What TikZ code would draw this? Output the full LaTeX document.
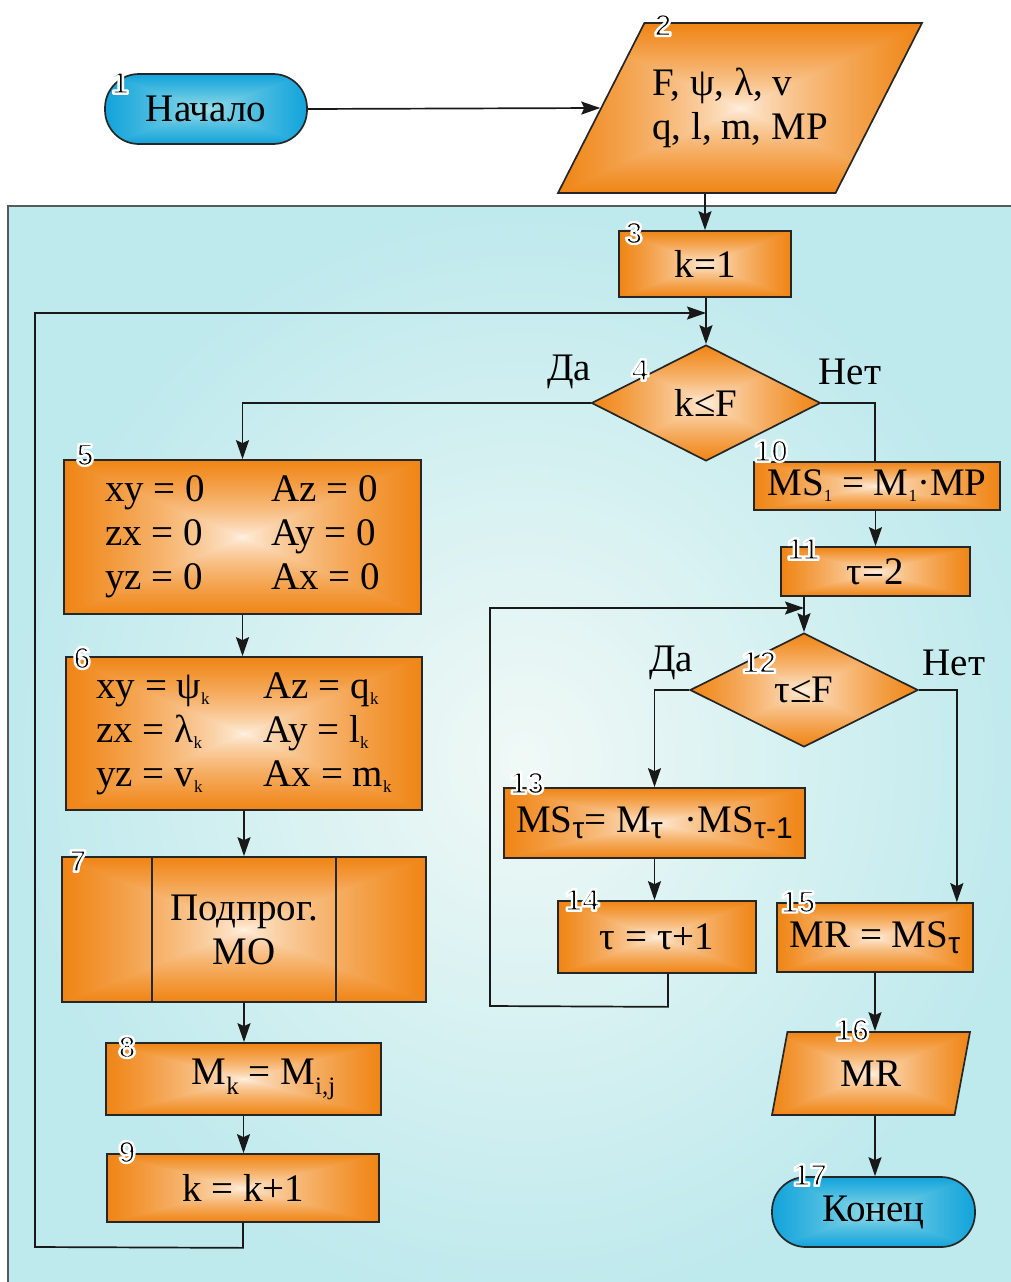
\documentclass[tikz,border=0pt]{standalone}
\usepackage{fontspec}
\setmainfont{Liberation Serif}
\newfontfamily\numfont{Liberation Sans}
\newfontfamily\numboldfont{Liberation Sans Bold}
\usetikzlibrary{shapes.geometric,arrows.meta,calc}

\pgfdeclarefunctionalshading{pyrorange}{\pgfpointorigin}{\pgfpoint{100bp}{100bp}}{}{
50 sub abs 25 div exch 50 sub abs 25 div
2 copy lt {exch} if pop
dup 1 gt {pop 1} if
0.7 exp
dup -0.06 mul 1 add exch
dup -0.43 mul 0.95 add exch
-0.82 mul 0.90 add
}
\pgfdeclarefunctionalshading{pyrblue}{\pgfpointorigin}{\pgfpoint{100bp}{100bp}}{}{
50 sub abs 25 div exch 50 sub abs 25 div
2 copy lt {exch} if pop
dup 1 gt {pop 1} if
0.8 exp
dup -0.55 mul 0.62 add exch
dup -0.24 mul 0.88 add exch
-0.05 mul 0.91 add
}

\newcommand\mainsize{\fontsize{39}{44}\selectfont}
\newcommand\lsub[1]{\raisebox{-6pt}{\fontsize{17}{17}\selectfont #1}}
\newcommand\msub[1]{\raisebox{-10pt}{\fontsize{25}{25}\selectfont #1}}
\newcommand\tsub[1]{\raisebox{-6pt}{\numfont\fontsize{30}{30}\selectfont #1}}
\newcommand\outl[1]{\special{pdf:literal direct 1 1 1 RG 2.4 w 1 j 2 Tr}#1\special{pdf:literal direct 0 Tr 0 0 0 RG}}

\tikzset{
  every node/.style={font=\mainsize},
  box/.style={draw=black!85, line width=1.7pt, shade, shading=pyrorange, inner sep=0pt, align=center},
  term/.style={draw=black!85, line width=1.7pt, shade, shading=pyrblue, rounded corners=34pt, inner sep=0pt},
  dec/.style={diamond, draw=black!85, line width=1.7pt, shade, shading=pyrorange, inner sep=0pt},
  para/.style={trapezium, trapezium stretches body, draw=black!85, line width=1.7pt, shade, shading=pyrorange, inner sep=0pt},
  arr/.style={line width=1.7pt, draw=black!90, -{Stealth[length=19pt,width=13pt,inset=3pt]}},
  ln/.style={line width=1.7pt, draw=black!90},
  num/.style={font=\numboldfont\fontsize{31}{31}\selectfont, inner sep=0pt},
  lbl/.style={inner sep=0pt},
}

\begin{document}
\begin{tikzpicture}[x=1pt,y=-1pt]
\useasboundingbox (0,0) rectangle (1011,1282);
\fill[white] (0,0) rectangle (1011,1282);
% panel
\shade[inner color={rgb,255:red,240;green,249;blue,246}, outer color={rgb,255:red,190;green,233;blue,237}] (8,206) rectangle (1040,1310);
\draw[line width=1.5pt, draw=black!65] (1040,206) -- (8,206) -- (8,1310);

% nodes
\node[term, minimum width=202pt, minimum height=70pt] (t1) at (206,109) {Начало};
\node[para, align=left, minimum width=364pt, minimum height=170pt, trapezium left angle=42.7, trapezium right angle=137.3] (p2) at (740,108) {F, ψ, λ, v\\q, l, m, MP};
\node[box, minimum width=172pt, minimum height=66pt] (b3) at (705,264) {k=1};
\node[dec, minimum width=229pt, minimum height=116pt] (d4) at (706,403) {k≤F};
\node[box, minimum width=357pt, minimum height=154pt] (b5) at (242.5,537)
  {\begin{tabular}{@{}l@{\hspace{66pt}}l@{}}xy = 0 & Az = 0\\ zx = 0 & Ay = 0\\ yz = 0 & Ax = 0\end{tabular}};
\node[box, minimum width=356pt, minimum height=153pt] (b6) at (244,733.5)
  {\begin{tabular}{@{}l@{\hspace{54pt}}l@{}}xy = ψ\lsub{k} & Az = q\lsub{k}\\ zx = λ\lsub{k} & Ay = l\lsub{k}\\ yz = v\lsub{k} & Ax = m\lsub{k}\end{tabular}};
\node[box, minimum width=364pt, minimum height=145pt] (b7) at (244,929.5) {Подпрог.\\МО};
\node[box, minimum width=275pt, minimum height=72pt] (b8) at (243.5,1079) {\hspace*{40pt}M\msub{k} = M\msub{i,j}};
\node[box, minimum width=272pt, minimum height=68pt] (b9) at (243,1188) {k = k+1};
\node[box, minimum width=246pt, minimum height=48pt] (b10) at (877,486) {MS\lsub{1} = M\lsub{1}·MP};
\node[box, minimum width=189pt, minimum height=49pt] (b11) at (875.5,571.5) {τ=2};
\node[dec, minimum width=228pt, minimum height=114pt] (d12) at (804,690) {τ≤F};
\node[box, minimum width=301pt, minimum height=70pt] (b13) at (654.5,823) {MS\tsub{τ}= M\tsub{τ}\hspace{22pt}·MS\tsub{τ-1}};
\node[box, minimum width=198pt, minimum height=72pt] (b14) at (657,937) {τ = τ+1};
\node[box, minimum width=196pt, minimum height=69pt] (b15) at (875,937.5) {MR = MS\tsub{τ}};
\node[para, minimum width=198pt, minimum height=83pt, trapezium left angle=58.9, trapezium right angle=121.1] (p16) at (871,1073.5) {MR};
\node[term, minimum width=203pt, minimum height=70pt] (t17) at (873.5,1212) {Конец};

% inner lines of predefined process
\draw[line width=1.5pt, draw=black!85] ([xshift=91pt]b7.north west) -- ([xshift=91pt]b7.south west);
\draw[line width=1.5pt, draw=black!85] ([xshift=-91pt]b7.north east) -- ([xshift=-91pt]b7.south east);

% connectors
\coordinate (j4) at (706,313);
\coordinate (j12) at (804,608);
\draw[arr] (t1.east) -- (p2.west);
\draw[arr] (p2.south -| b3.north) -- (b3.north);
\draw[arr] (b3.south -| d4.north) -- (d4.north);
\draw[arr] (b9.south) -- ++(0,25) -- (35,1247) -- (35,313) -- (j4);
\draw[arr] (d4.west) -| (b5.north);
\draw[ln] (d4.east) -| ([xshift=-2pt]b10.north);
\draw[arr] (b5.south) -- (b5.south |- b6.north);
\draw[arr] (b6.south) -- (b6.south |- b7.north);
\draw[arr] (b7.south) -- (b7.south |- b8.north);
\draw[arr] (b8.south) -- (b8.south |- b9.north);
\draw[arr] (b11.north |- b10.south) -- (b11.north);
\draw[arr] (d12.north |- b11.south) -- (d12.north);
\draw[arr] ([xshift=11pt]b14.south) -- ++(0,33) -- (490,1006) -- (490,608) -- (j12);
\draw[arr] (d12.west) -| (b13.north);
\draw[arr] (d12.east) -| ([xshift=-17pt]b15.north east);
\draw[arr] (b13.south) -- (b13.south |- b14.north);
\draw[arr] (b15.south) -- (b15.south |- p16.north);
\draw[arr] (b15.south |- p16.south) -- (b15.south |- t17.north);

% labels
\node[lbl] (da4) at (569,372) {Да};
\node[lbl] (nt4) at (850,372) {Нет};
\node[lbl] (da12) at (671,663) {Да};
\node[lbl] (nt12) at (954,663) {Нет};

% numbers
\node[num] (n1) at (120,83) {\outl{1}};
\node[num] (n2) at (663,25) {\outl{2}};
\node[num] (n3) at (634,233) {\outl{3}};
\node[num] (n4) at (640,370) {\outl{4}};
\node[num] (n5) at (85,455) {\outl{5}};
\node[num] (n6) at (82,658) {\outl{6}};
\node[num] (n7) at (78,861) {\outl{7}};
\node[num] (n8) at (127,1047) {\outl{8}};
\node[num] (n9) at (127,1152) {\outl{9}};
\node[num] (n10) at (771,451) {\outl{10}};
\node[num] (n11) at (803,549) {\outl{11}};
\node[num] (n12) at (759,662) {\outl{12}};
\node[num] (n13) at (527,783) {\outl{13}};
\node[num] (n14) at (582,900) {\outl{14}};
\node[num] (n15) at (798,902) {\outl{15}};
\node[num] (n16) at (852,1030) {\outl{16}};
\node[num] (n17) at (810,1175) {\outl{17}};
\end{tikzpicture}
\end{document}
